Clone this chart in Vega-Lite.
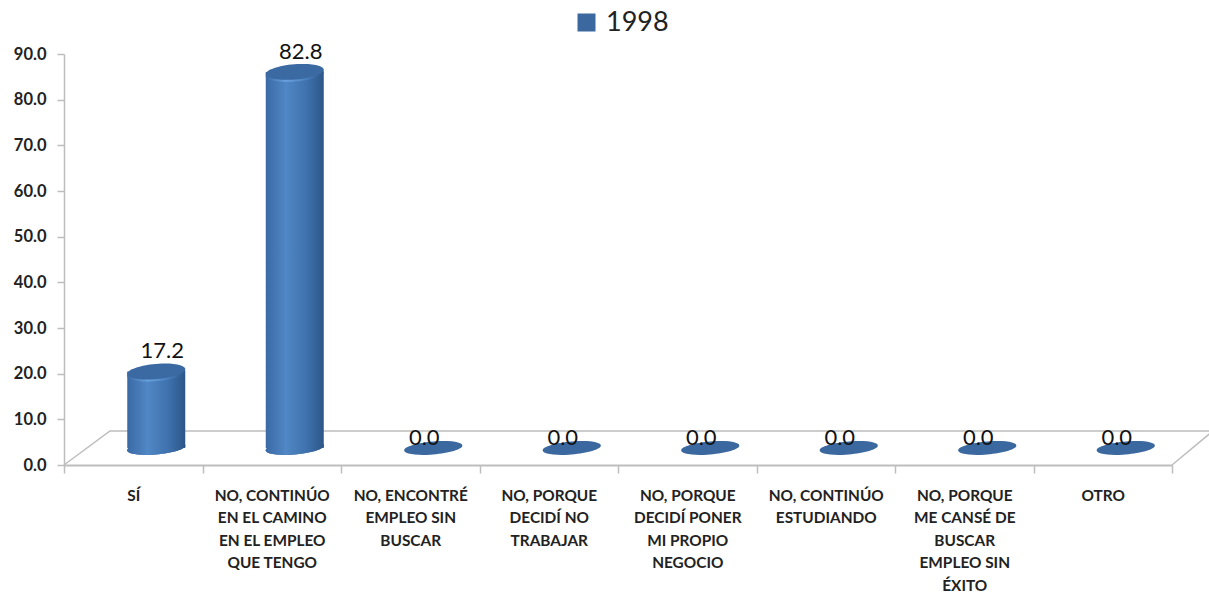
{
"$schema":"https://vega.github.io/schema/vega-lite/v6.json",
"width":1108,"height":411,
"autosize":"none",
"padding":{"left":64,"top":54,"right":37,"bottom":127},
"background":"white",
"config":{"view":{"stroke":null},"font":"Lato"},
"datasets":{
"bars":[
{"cat":"SÍ","value":17.2,"serie":"1998"},
{"cat":"NO, CONTINÚO|EN EL CAMINO|EN EL EMPLEO|QUE TENGO","value":82.8,"serie":"1998"},
{"cat":"NO, ENCONTRÉ|EMPLEO SIN|BUSCAR","value":0.0,"serie":"1998"},
{"cat":"NO, PORQUE|DECIDÍ NO|TRABAJAR","value":0.0,"serie":"1998"},
{"cat":"NO, PORQUE|DECIDÍ PONER|MI PROPIO|NEGOCIO","value":0.0,"serie":"1998"},
{"cat":"NO, CONTINÚO|ESTUDIANDO","value":0.0,"serie":"1998"},
{"cat":"NO, PORQUE|ME CANSÉ DE|BUSCAR|EMPLEO SIN|ÉXITO","value":0.0,"serie":"1998"},
{"cat":"OTRO","value":0.0,"serie":"1998"}
],
"floor":[
{"fx":0,"fy":0,"part":"a"},{"fx":0.332,"fy":7.45,"part":"a"},{"fx":8.27,"fy":7.45,"part":"a"},
{"fx":8,"fy":0,"part":"b"},{"fx":8.27,"fy":6.8,"part":"b"}
]
},
"resolve":{"scale":{"x":"independent"},"axis":{"x":"independent"}},
"layer":[
{"data":{"name":"floor"},
 "mark":{"type":"line","color":"#bdbdbd","strokeWidth":1.5,"clip":false},
 "encoding":{
  "x":{"field":"fx","type":"quantitative","scale":{"domain":[0,8],"nice":false,"zero":false},"axis":null},
  "y":{"field":"fy","type":"quantitative","scale":{"domain":[0,90],"nice":false},
    "axis":{"title":null,"values":[0,10,20,30,40,50,60,70,80,90],"format":".1f","labelFont":"Lato","labelFontWeight":"bold","labelFontSize":16.5,"labelColor":"#222222","labelPadding":11,"tickColor":"#bdbdbd","tickSize":7,"tickWidth":1.5,"domainColor":"#bdbdbd","domainWidth":1.5,"grid":false}},
  "detail":{"field":"part"}
 }},
{"data":{"name":"bars"},
 "layer":[
 {"mark":{"type":"point","filled":true,"size":3364,"opacity":1,"xOffset":23,"yOffset":-17,"strokeWidth":0,
    "shape":"M-1,0.06 A1,0.22 -5 1 1 1,-0.06 A1,0.22 -5 1 1 -1,0.06 Z"},
  "encoding":{
   "x":{"field":"cat","type":"nominal","sort":null,"scale":{"paddingInner":0,"paddingOuter":0},
    "axis":{"title":null,"labelAngle":0,"labelExpr":"datum.value ? split(datum.value,'|') : ''","labelFont":"Lato","labelFontWeight":"bold","labelFontSize":15.4,"labelColor":"#222222","labelLineHeight":22.5,"labelPadding":15,"labelBaseline":"top","labelLimit":0,"labelOverlap":false,"tickBand":"extent","tickColor":"#bdbdbd","tickSize":8,"tickWidth":1.5,"domainColor":"#bdbdbd","domainWidth":2}},
   "y":{"datum":0,"type":"quantitative"},
   "color":{"field":"serie","type":"nominal","scale":{"domain":["1998"],"range":["#3a689f"]},
    "legend":{"title":null,"orient":"none","legendX":509,"legendY":-45,"symbolType":"square","symbolSize":324,"symbolStrokeWidth":0,"labelFont":"Lato","labelFontSize":27,"labelColor":"#222222","labelOffset":6,"padding":0,
     "symbolFillColor":{"gradient":"linear","x1":0,"y1":0,"x2":1,"y2":1,"stops":[{"offset":0,"color":"#5f97d6"},{"offset":0.5,"color":"#4279b8"},{"offset":1,"color":"#2c5688"}]}}}
  }},
 {"transform":[{"filter":"datum.value>0"}],
  "mark":{"type":"point","filled":true,"size":3364,"opacity":1,"xOffset":23,"yOffset":-17,"strokeWidth":0,
    "color":{"gradient":"linear","x1":0,"y1":0,"x2":1,"y2":0,"stops":[{"offset":0,"color":"#3a6aa6"},{"offset":0.35,"color":"#5087c4"},{"offset":0.7,"color":"#3f72ae"},{"offset":1,"color":"#2c5688"}]},
    "shape":"M-1,0.06 A1,0.22 -5 1 1 1,-0.06 A1,0.22 -5 1 1 -1,0.06 Z"},
  "encoding":{"x":{"field":"cat","type":"nominal","sort":null},"y":{"datum":0,"type":"quantitative"}}},
 {"transform":[{"filter":"datum.value>0"}],
  "mark":{"type":"bar","size":58,"xOffset":23,"yOffset":-15,"y2Offset":-17,
    "color":{"gradient":"linear","x1":0,"y1":0,"x2":1,"y2":0,"stops":[{"offset":0,"color":"#3a6aa6"},{"offset":0.35,"color":"#5087c4"},{"offset":0.7,"color":"#3f72ae"},{"offset":1,"color":"#2c5688"}]}},
  "encoding":{
   "x":{"field":"cat","type":"nominal","sort":null},
   "y":{"field":"value","type":"quantitative"},
   "y2":{"datum":0}
  }},
 {"transform":[{"filter":"datum.value>0"}],
  "mark":{"type":"point","filled":true,"size":3364,"opacity":1,"xOffset":23,"yOffset":-13,"strokeWidth":0,
    "color":{"gradient":"linear","x1":0,"y1":0,"x2":1,"y2":0,"stops":[{"offset":0,"color":"#3a6aa6"},{"offset":0.35,"color":"#6aa2e0"},{"offset":0.7,"color":"#4a80bd"},{"offset":1,"color":"#2c5688"}]},
    "shape":"M-1,0.06 A1,0.26 -5 1 1 1,-0.06 A1,0.26 -5 1 1 -1,0.06 Z"},
  "encoding":{"x":{"field":"cat","type":"nominal","sort":null},"y":{"field":"value","type":"quantitative"}}},
 {"transform":[{"filter":"datum.value>0"}],
  "mark":{"type":"point","filled":true,"size":3364,"opacity":1,"xOffset":23,"yOffset":-15,"color":"#3b6aa3","strokeWidth":0,
    "shape":"M-1,0.06 A1,0.26 -5 1 1 1,-0.06 A1,0.26 -5 1 1 -1,0.06 Z"},
  "encoding":{"x":{"field":"cat","type":"nominal","sort":null},"y":{"field":"value","type":"quantitative"}}},
 {"transform":[{"filter":"datum.value>0"}],
  "mark":{"type":"text","fontSize":22,"font":"Lato","color":"#111111","xOffset":29,"yOffset":-28,"baseline":"alphabetic"},
  "encoding":{"x":{"field":"cat","type":"nominal","sort":null},"y":{"field":"value","type":"quantitative"},"text":{"field":"value","type":"quantitative","format":".1f"}}},
 {"transform":[{"filter":"datum.value==0"}],
  "mark":{"type":"text","fontSize":22,"font":"Lato","color":"#111111","xOffset":14,"yOffset":-20,"baseline":"alphabetic"},
  "encoding":{"x":{"field":"cat","type":"nominal","sort":null},"y":{"field":"value","type":"quantitative"},"text":{"field":"value","type":"quantitative","format":".1f"}}}
 ]}
]
}
